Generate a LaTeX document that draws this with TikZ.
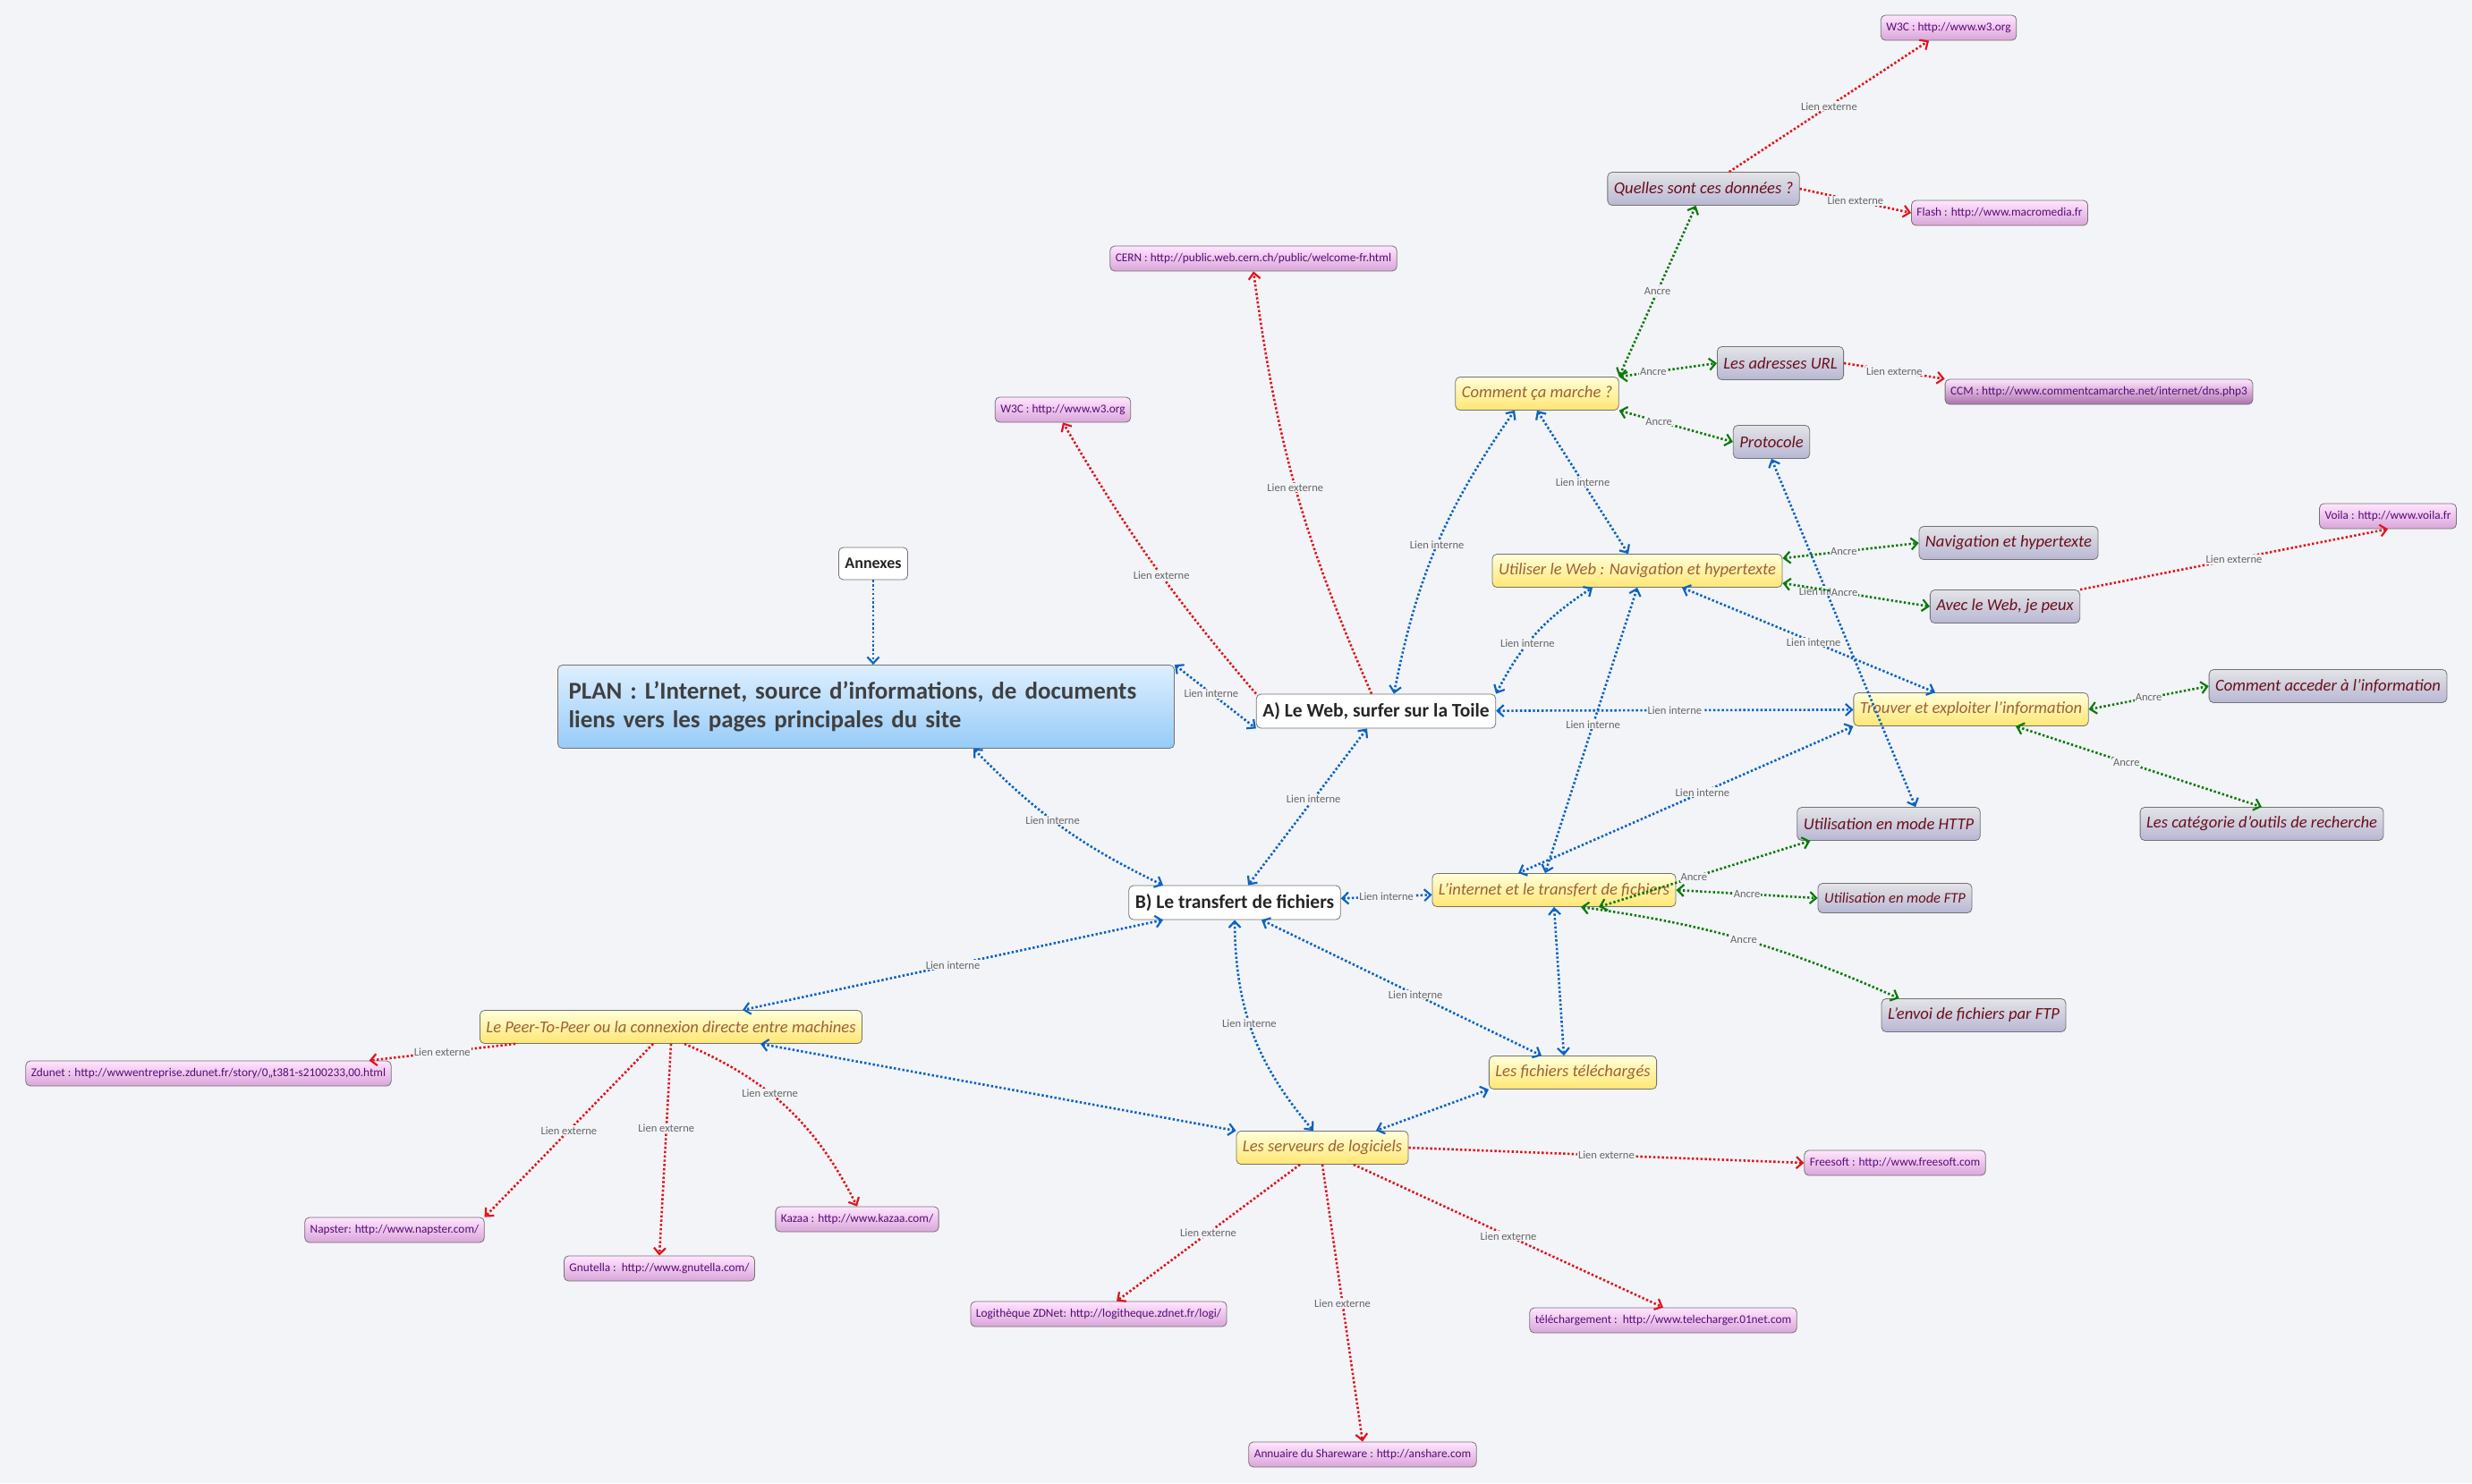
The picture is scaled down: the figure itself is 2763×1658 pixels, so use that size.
\documentclass[tikz,border=0pt]{standalone}
\usepackage{fontspec}
\setmainfont{Carlito}
\usetikzlibrary{arrows.meta}
\definecolor{bgc}{HTML}{F3F4F7}
\definecolor{linkblue}{HTML}{0A63C4}
\definecolor{linkgreen}{HTML}{0C7A0C}
\definecolor{linkred}{HTML}{E0141E}
\definecolor{darkred}{HTML}{6B0F1A}
\definecolor{purp}{HTML}{5A0A78}
\definecolor{roottop}{HTML}{DDEFFF}
\definecolor{rootbot}{HTML}{97CBF7}
\tikzset{
  box/.style={draw=black!55, rounded corners=5pt, line width=0.8pt, inner xsep=7pt, inner ysep=4pt},
  whitenode/.style={box, fill=white, font=\fontsize{21.5}{25}\selectfont\bfseries, text=black!85, minimum height=38pt},
  rootnode/.style={box, top color=roottop, bottom color=rootbot, align=left, text width=665pt,
    font=\fontsize{27}{32}\selectfont\bfseries, text=black!75, inner xsep=12pt, minimum height=93pt},
  yellownode/.style={box, top color=yellow!15, bottom color=yellow!65!orange!55, font=\fontsize{18.6}{21}\selectfont\itshape, text=black!70!yellow!60!red, minimum height=37pt},
  greynode/.style={box, top color=blue!8!gray!20, bottom color=blue!25!gray!45, font=\fontsize{18.6}{21}\selectfont\itshape, text=darkred, minimum height=37pt},
  pinknode/.style={box, top color=magenta!10, bottom color=magenta!40!gray!50, font=\fontsize{13.3}{15}\selectfont, text=purp, minimum height=28pt, inner xsep=6pt},
  lbl/.style={fill=bgc, inner sep=1pt, font=\fontsize{12.5}{14}\selectfont, text=black!60},
  lnk/.style={line width=2.6pt, dash pattern=on 2.4pt off 2.4pt, {Straight Barb[length=7pt,width=13pt,line width=2.2pt]}-{Straight Barb[length=7pt,width=13pt,line width=2.2pt]}},
  interne/.style={lnk, draw=linkblue, color=linkblue},
  ancre/.style={lnk, draw=linkgreen, color=linkgreen},
  externe/.style={line width=2.6pt, dash pattern=on 2.4pt off 2.4pt, draw=linkred, color=linkred, -{Straight Barb[length=7pt,width=13pt,line width=2.2pt]}},
}
\begin{document}
\begin{tikzpicture}[x=1pt,y=-1pt]
  % background and frame
  \fill[bgc] (0,0) rectangle (2763,1658);
  \useasboundingbox (0,0) rectangle (2763,1658);

  % central nodes
  \node[rootnode] (plan) at (968,790) {\hyphenpenalty=10000 PLAN : L'Internet, source d'informations, de documents\\liens vers les pages principales du site};
  \node[whitenode, font=\fontsize{18}{21}\selectfont\bfseries, minimum height=36pt] (annexes) at (976,630) {Annexes};
  \node[whitenode] (web) at (1538,795) {A) Le Web, surfer sur la Toile};
  \node[whitenode] (transf) at (1380,1009) {B) Le transfert de fichiers};

  % yellow topics
  \node[yellownode] (comment) at (1718,440) {Comment ça marche ?};
  \node[yellownode] (utiliser) at (1830,638) {Utiliser le Web : Navigation et hypertexte};
  \node[yellownode] (trouver) at (2203,793) {Trouver et exploiter l'information};
  \node[yellownode] (internet) at (1737,995) {L'internet et le transfert de fichiers};
  \node[yellownode] (telech) at (1758,1199) {Les fichiers téléchargés};
  \node[yellownode] (serveurs) at (1478,1283) {Les serveurs de logiciels};
  \node[yellownode] (peer) at (750,1148) {Le Peer-To-Peer ou la connexion directe entre machines};

  % grey topics
  \node[greynode] (donnees) at (1904,211) {Quelles sont ces données ?};
  \node[greynode] (url) at (1990,406) {Les adresses URL};
  \node[greynode] (proto) at (1980,494) {Protocole};
  \node[greynode] (navig) at (2245,607) {Navigation et hypertexte};
  \node[greynode] (avec) at (2241,678) {Avec le Web, je peux};
  \node[greynode] (acceder) at (2602,767) {Comment acceder à l'information};
  \node[greynode] (categ) at (2528,921) {Les catégorie d'outils de recherche};
  \node[greynode] (http) at (2111,921) {Utilisation en mode HTTP};
  \node[greynode, font=\fontsize{16.5}{19}\selectfont\itshape, minimum height=33pt] (ftp) at (2118,1004) {Utilisation en mode FTP};
  \node[greynode] (envoi) at (2206,1135) {L'envoi de fichiers par FTP};

  % external links
  \node[pinknode] (w3ctop) at (2178,31) {W3C : http://www.w3.org};
  \node[pinknode] (flash) at (2235,238) {Flash : http://www.macromedia.fr};
  \node[pinknode] (cern) at (1401,289) {CERN : http://public.web.cern.ch/public/welcome-fr.html};
  \node[pinknode] (w3cleft) at (1188,458) {W3C : http://www.w3.org};
  \node[pinknode, bottom color=magenta!40!black!55] (ccm) at (2346,438) {CCM : http://www.commentcamarche.net/internet/dns.php3};
  \node[pinknode] (voila) at (2669,577) {Voila : http://www.voila.fr};
  \node[pinknode] (zdunet) at (233,1200) {Zdunet : http://wwwentreprise.zdunet.fr/story/0,,t381-s2100233,00.html};
  \node[pinknode] (napster) at (441,1375) {Napster: http://www.napster.com/};
  \node[pinknode] (gnutella) at (737,1418) {Gnutella :\ \ http://www.gnutella.com/};
  \node[pinknode] (kazaa) at (958,1363) {Kazaa : http://www.kazaa.com/};
  \node[pinknode] (freesoft) at (2118,1300) {Freesoft : http://www.freesoft.com};
  \node[pinknode] (logi) at (1228,1469) {Logithèque ZDNet: http://logitheque.zdnet.fr/logi/};
  \node[pinknode] (telecharger) at (1859,1476) {téléchargement :\ \ http://www.telecharger.01net.com};
  \node[pinknode] (anshare) at (1523,1626) {Annuaire du Shareware : http://anshare.com};

  % Lien interne
  \draw[interne, -{Straight Barb[length=7pt,width=13pt,line width=2.2pt]}] (annexes) -- (plan.north -| annexes);
  \draw[interne] (plan.north east) -- node[lbl, pos=0.45] {Lien interne} (web.south west);
  \draw[interne] ([xshift=20pt]web.north) to[bend left=12] node[lbl] {Lien interne} ([xshift=-25pt]comment.south);
  \draw[interne] (web.north east) to[bend left=15] node[lbl, pos=0.4] {Lien interne} ([xshift=-50pt]utiliser.south);
  \draw[interne] (web) -- node[lbl] {Lien interne} (trouver);
  \draw[interne] ([xshift=-10pt]web.south) -- node[lbl, pos=0.45] {Lien interne} ([xshift=15pt]transf.north);
  \draw[interne] ([xshift=120pt]plan.south) to[bend right=10] node[lbl, pos=0.45] {Lien interne} ([xshift=-80pt]transf.north);
  \draw[interne] (comment.south) -- node[lbl] {Lien interne} ([xshift=-10pt]utiliser.north);
  \draw[interne] ([xshift=50pt]utiliser.south) -- node[lbl, pos=0.52] {Lien interne} ([xshift=-40pt]trouver.north);
  \draw[interne] (utiliser.south) -- node[lbl, pos=0.48] {Lien interne} ([xshift=-10pt]internet.north);
  \draw[interne] (proto.south) -- node[lbl, pos=0.38] {Lien interne} ([xshift=30pt]http.north);
  \draw[interne] (trouver.south west) -- node[lbl, pos=0.45] {Lien interne} ([xshift=-40pt]internet.north);
  \draw[interne] (transf) -- node[lbl] {Lien interne} (internet);
  \draw[interne] ([xshift=-80pt]transf.south) -- node[lbl, pos=0.5] {Lien interne} ([xshift=80pt]peer.north);
  \draw[interne] ([xshift=30pt]transf.south) -- node[lbl, pos=0.55] {Lien interne} ([xshift=-35pt]telech.north);
  \draw[interne] (transf.south) to[bend right=20] node[lbl, pos=0.45] {Lien interne} ([xshift=-10pt]serveurs.north);
  \draw[interne] (internet.south) -- ([xshift=-10pt]telech.north);
  \draw[interne] (telech.south west) -- ([xshift=60pt]serveurs.north);
  \draw[interne] ([xshift=100pt]peer.south) -- (serveurs.north west);

  % Ancre
  \draw[ancre] (donnees) -- node[lbl] {Ancre} (comment.north east);
  \draw[ancre] (comment.north east) -- node[lbl, pos=0.35] {Ancre} (url.west);
  \draw[ancre] (comment.south east) -- node[lbl, pos=0.35] {Ancre} (proto.west);
  \draw[ancre] ([yshift=-5pt]utiliser.north east) -- node[lbl, pos=0.45] {Ancre} (navig.west);
  \draw[ancre] ([yshift=5pt]utiliser.south east) -- node[lbl, pos=0.42] {Ancre} (avec.west);
  \draw[ancre] (trouver.east) -- node[lbl, pos=0.5] {Ancre} (acceder.west);
  \draw[ancre] ([xshift=50pt]trouver.south) -- node[lbl, pos=0.45] {Ancre} (categ.north);
  \draw[ancre] ([xshift=50pt]internet.south) -- node[lbl, pos=0.45] {Ancre} ([xshift=15pt]http.south west);
  \draw[ancre] (internet.east) -- node[lbl] {Ancre} (ftp.west);
  \draw[ancre] ([xshift=30pt]internet.south) to[bend left=8] node[lbl, pos=0.5] {Ancre} ([xshift=20pt]envoi.north west);

  % Lien externe
  \draw[externe] (donnees) -- node[lbl] {Lien externe} (w3ctop);
  \draw[externe] (donnees.east) -- node[lbl] {Lien externe} (flash.west);
  \draw[externe] (url.east) -- node[lbl] {Lien externe} (ccm.north west);
  \draw[externe] ([xshift=-5pt]web.north) to[bend left=8] node[lbl] {Lien externe} (cern.south);
  \draw[externe] (web.north west) to[bend left=5] node[lbl, pos=0.45] {Lien externe} (w3cleft.south);
  \draw[externe] (avec.north east) -- node[lbl] {Lien externe} (voila.south);
  \draw[externe] ([xshift=40pt]peer.south west) -- node[lbl] {Lien externe} ([xshift=-25pt]zdunet.north east);
  \draw[externe] ([xshift=-20pt]peer.south) -- node[lbl] {Lien externe} (napster.north east);
  \draw[externe] (peer.south) -- node[lbl, pos=0.4] {Lien externe} (gnutella.north);
  \draw[externe] ([xshift=15pt]peer.south) to[bend left=20] node[lbl, pos=0.4] {Lien externe} (kazaa.north);
  \draw[externe] (serveurs.east) -- node[lbl] {Lien externe} (freesoft.west);
  \draw[externe] ([xshift=-25pt]serveurs.south) -- node[lbl] {Lien externe} ([xshift=20pt]logi.north);
  \draw[externe] (serveurs.south) -- node[lbl] {Lien externe} (anshare.north);
  \draw[externe] ([xshift=35pt]serveurs.south) -- node[lbl] {Lien externe} (telecharger.north);
\end{tikzpicture}
\end{document}
